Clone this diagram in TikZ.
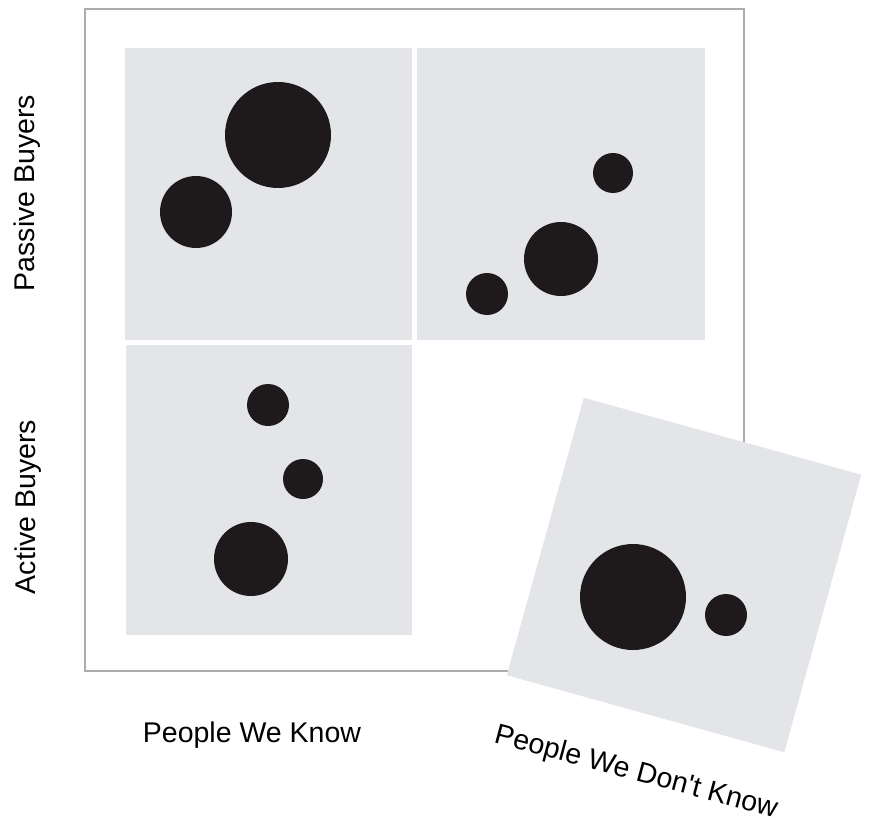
\documentclass[tikz,border=0pt]{standalone}
\usepackage{fontspec}
\setmainfont{Liberation Sans}
\definecolor{QuadGray}{RGB}{227,229,232}
\definecolor{DotBlack}{RGB}{30,26,28}
\definecolor{FrameGray}{RGB}{172,172,172}

\begin{document}
\begin{tikzpicture}[x=1pt,y=-1pt,font=\fontsize{28.5}{34}\selectfont]
  \useasboundingbox (0,0) rectangle (874,826);
  % One buyer dot: name, centre, diameter in px.
  \newcommand{\buyerdot}[3]{%
    \node[circle,fill=DotBlack,inner sep=0pt,minimum size=#3pt] (#1) at (#2) {};
  }
  \draw[FrameGray,line width=1.1] (85,9) rectangle (744,671);

  \fill[QuadGray] (125,48) rectangle (412,340);
  \fill[QuadGray] (417,48) rectangle (705,340);
  \fill[QuadGray] (126,345) rectangle (412,635);
  \fill[QuadGray,rotate around={-15.5:(684,575)}] (540,431) rectangle (828,719);

  \buyerdot{pkbig}{278,135}{106}
  \buyerdot{pksmall}{196,212}{72}
  \buyerdot{pdtop}{613,173}{40}
  \buyerdot{pdbig}{561,259}{74}
  \buyerdot{pdlow}{487,294}{42}
  \buyerdot{aktop}{268,405}{42}
  \buyerdot{akmid}{303,479}{40}
  \buyerdot{akbig}{251,559}{74}
  \buyerdot{adbig}{633,597}{106}
  \buyerdot{adsmall}{726,615}{42}

  \node[rotate=90,anchor=base] (passive) at (34,193) {Passive Buyers};
  \node[rotate=90,anchor=base] (active) at (35,507) {Active Buyers};
  \node[anchor=base] (know) at (252,742) {People We Know};
  \node[rotate=-15,anchor=base] (dontknow) at (634,780) {People We Don\textquotesingle t Know};
\end{tikzpicture}
\end{document}
